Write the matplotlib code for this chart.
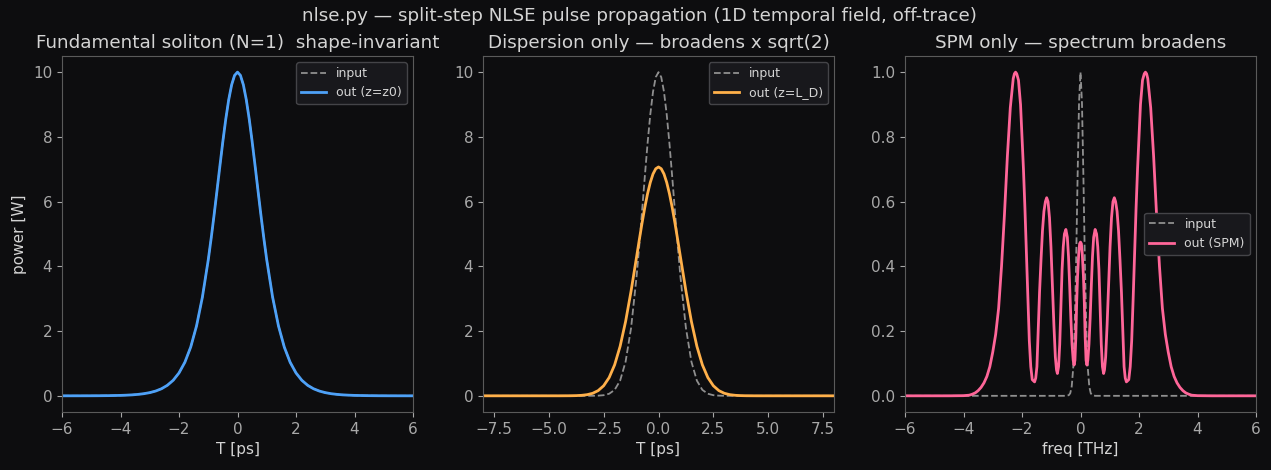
import numpy as np
import matplotlib
matplotlib.use("Agg")
import matplotlib.pyplot as plt

# panel 1: fundamental soliton, power [W] vs T [ps]
t_sol = [-6.0, -5.6, -5.2, -4.8, -4.4, -4.0, -3.8, -3.6, -3.4, -3.2, -3.0, -2.8, -2.6, -2.4,
         -2.2, -2.0, -1.8, -1.6, -1.4, -1.2, -1.0, -0.9, -0.8, -0.7, -0.6, -0.5, -0.4, -0.3,
         -0.2, -0.1, 0.0, 0.1, 0.2, 0.3, 0.4, 0.5, 0.6, 0.7, 0.8, 0.9, 1.0, 1.2, 1.4, 1.6,
         1.8, 2.0, 2.2, 2.4, 2.6, 2.8, 3.0, 3.2, 3.4, 3.6, 3.8, 4.0, 4.4, 4.8, 5.2, 5.6, 6.0]
p_sol = [0.0002, 0.0006, 0.0012, 0.0027, 0.006, 0.0134, 0.020, 0.0298, 0.0445, 0.0662, 0.0987,
         0.147, 0.218, 0.324, 0.479, 0.707, 1.036, 1.505, 2.162, 3.050, 4.200, 4.869, 5.591,
         6.347, 7.116, 7.864, 8.556, 9.151, 9.610, 9.901, 10.0, 9.901, 9.610, 9.151, 8.556,
         7.864, 7.116, 6.347, 5.591, 4.869, 4.200, 3.050, 2.162, 1.505, 1.036, 0.707, 0.479,
         0.324, 0.218, 0.147, 0.0987, 0.0662, 0.0445, 0.0298, 0.020, 0.0134, 0.006, 0.0027,
         0.0012, 0.0006, 0.0002]

# panel 2: dispersion only
t_disp = [-8.0, -6.0, -5.0, -4.5, -4.0, -3.75, -3.5, -3.25, -3.0, -2.75, -2.5, -2.25, -2.0,
          -1.75, -1.5, -1.25, -1.0, -0.875, -0.75, -0.625, -0.5, -0.375, -0.25, -0.125, 0.0,
          0.125, 0.25, 0.375, 0.5, 0.625, 0.75, 0.875, 1.0, 1.25, 1.5, 1.75, 2.0, 2.25, 2.5,
          2.75, 3.0, 3.25, 3.5, 3.75, 4.0, 4.5, 5.0, 6.0, 8.0]
p_disp_in = [0, 0, 0, 0, 0, 0, 0, 0.0001, 0.0012, 0.0052, 0.0193, 0.0633, 0.183, 0.468, 1.054,
             2.096, 3.679, 4.650, 5.698, 6.767, 7.788, 8.688, 9.394, 9.845, 10.0, 9.845, 9.394,
             8.688, 7.788, 6.767, 5.698, 4.650, 3.679, 2.096, 1.054, 0.468, 0.183, 0.0633,
             0.0193, 0.0052, 0.0012, 0.0001, 0, 0, 0, 0, 0, 0, 0]
p_disp_out = [0, 0, 0.0001, 0.0003, 0.0024, 0.0063, 0.0155, 0.036, 0.0786, 0.161, 0.311, 0.563,
              0.957, 1.529, 2.296, 3.237, 4.289, 4.822, 5.338, 5.817, 6.240, 6.591, 6.854,
              7.016, 7.071, 7.016, 6.854, 6.591, 6.240, 5.817, 5.338, 4.822, 4.289, 3.237,
              2.296, 1.529, 0.957, 0.563, 0.311, 0.161, 0.0786, 0.036, 0.0155, 0.0063, 0.0024,
              0.0003, 0.0001, 0, 0]

# panel 3: SPM only, normalised spectra vs freq [THz]
f_in = [-6.0, -0.5, -0.4, -0.35, -0.3, -0.25, -0.2, -0.15, -0.1, -0.05, 0.0,
        0.05, 0.1, 0.15, 0.2, 0.25, 0.3, 0.35, 0.4, 0.5, 6.0]
s_in = [0, 0, 0.002, 0.008, 0.029, 0.085, 0.206, 0.411, 0.674, 0.906, 1.0,
        0.906, 0.674, 0.411, 0.206, 0.085, 0.029, 0.008, 0.002, 0, 0]

f_spm = [-6.0, -4.5, -4.0, -3.8, -3.7, -3.6, -3.5, -3.4, -3.3, -3.2, -3.1, -3.0, -2.9, -2.8,
         -2.7, -2.6, -2.5, -2.4, -2.3, -2.26, -2.22, -2.18, -2.12, -2.05, -1.95, -1.9, -1.85,
         -1.8, -1.75, -1.7, -1.65, -1.57, -1.53, -1.49, -1.45, -1.40, -1.35, -1.30, -1.25,
         -1.20, -1.156, -1.11, -1.06, -1.01, -0.96, -0.91, -0.86, -0.82, -0.79, -0.75, -0.71,
         -0.67, -0.63, -0.59, -0.55, -0.50, -0.45, -0.41, -0.37, -0.33, -0.29, -0.25, -0.22,
         -0.19, -0.16, -0.13, -0.10, -0.06, -0.03, 0.0,
         0.03, 0.06, 0.10, 0.13, 0.16, 0.19, 0.22, 0.25, 0.29, 0.33, 0.37, 0.41, 0.45, 0.50,
         0.55, 0.59, 0.63, 0.67, 0.71, 0.75, 0.79, 0.82, 0.86, 0.91, 0.96, 1.01, 1.06, 1.11,
         1.156, 1.20, 1.25, 1.30, 1.35, 1.40, 1.45, 1.49, 1.53, 1.57, 1.65, 1.7, 1.75, 1.8,
         1.85, 1.9, 1.95, 2.05, 2.12, 2.18, 2.22, 2.26, 2.3, 2.4, 2.5, 2.6, 2.7, 2.8, 2.9, 3.0,
         3.1, 3.2, 3.3, 3.4, 3.5, 3.6, 3.7, 3.8, 4.0, 4.5, 6.0]
s_spm = [0, 0, 0.0005, 0.002, 0.005, 0.009, 0.016, 0.026, 0.04, 0.06, 0.09, 0.135, 0.19, 0.27,
         0.40, 0.56, 0.74, 0.89, 0.98, 0.995, 1.0, 0.995, 0.975, 0.90, 0.70, 0.58, 0.44,
         0.30, 0.17, 0.09, 0.05, 0.043, 0.055, 0.09, 0.19, 0.32, 0.42, 0.51, 0.57,
         0.60, 0.612, 0.60, 0.55, 0.46, 0.34, 0.22, 0.12, 0.08, 0.069, 0.09, 0.16,
         0.28, 0.39, 0.46, 0.50, 0.514, 0.49, 0.43, 0.34, 0.24, 0.16, 0.11, 0.095,
         0.11, 0.18, 0.29, 0.37, 0.44, 0.47, 0.475,
         0.47, 0.44, 0.37, 0.29, 0.18, 0.11, 0.095, 0.11, 0.16, 0.24, 0.34, 0.43, 0.49, 0.514,
         0.50, 0.46, 0.39, 0.28, 0.16, 0.09, 0.069, 0.08, 0.12, 0.22, 0.34, 0.46, 0.55, 0.60,
         0.612, 0.60, 0.57, 0.51, 0.42, 0.32, 0.19, 0.09, 0.055, 0.043, 0.05, 0.09, 0.17, 0.30,
         0.44, 0.58, 0.70, 0.90, 0.975, 0.995, 1.0, 0.995, 0.98, 0.89, 0.74, 0.56, 0.40, 0.27,
         0.19, 0.135, 0.09, 0.06, 0.04, 0.026, 0.016, 0.009, 0.005, 0.002, 0.0005, 0, 0]

bg = "#0d0d0f"
fg = "#d4d4d4"
tick_c = "#a8a8a8"
spine_c = "#5a5a5a"
in_c = "#8f8f8f"

plt.rcParams.update({
    "figure.facecolor": bg,
    "axes.facecolor": bg,
    "axes.edgecolor": spine_c,
    "axes.labelcolor": fg,
    "xtick.color": tick_c,
    "ytick.color": tick_c,
    "text.color": fg,
    "font.size": 11,
})

fig = plt.figure(figsize=(12.71, 4.70), dpi=100)
lefts = [62 / 1271, 483 / 1271, 905 / 1271]
axes = [fig.add_axes([l, 0.1234, 351 / 1271, 0.7575]) for l in lefts]


def legend(ax, loc):
    leg = ax.legend(loc=loc, fontsize=9, facecolor="#18181c", edgecolor="#444448",
                    framealpha=1.0, labelcolor=fg)
    leg.get_frame().set_linewidth(1.0)


ax = axes[0]
ax.plot(t_sol, p_sol, "--", color=in_c, lw=1.3, label="input")
ax.plot(t_sol, p_sol, color="#4ea1f7", lw=2.0, label="out (z=z0)")
ax.set_xlim(-6, 6)
ax.set_title("Fundamental soliton (N=1)  shape-invariant", fontsize=13.2, color=fg)
ax.set_xlabel("T [ps]")
ax.set_ylabel("power [W]")
legend(ax, "upper right")

ax = axes[1]
ax.plot(t_disp, p_disp_in, "--", color=in_c, lw=1.3, label="input")
ax.plot(t_disp, p_disp_out, color="#ffb04a", lw=2.0, label="out (z=L_D)")
ax.set_xlim(-8, 8)
ax.set_title("Dispersion only — broadens x sqrt(2)", fontsize=13.2, color=fg)
ax.set_xlabel("T [ps]")
legend(ax, "upper right")

ax = axes[2]
ax.plot(f_in, s_in, "--", color=in_c, lw=1.3, label="input")
ax.plot(f_spm, s_spm, color="#ff6699", lw=2.0, label="out (SPM)")
ax.set_xlim(-6, 6)
ax.set_title("SPM only — spectrum broadens", fontsize=13.2, color=fg)
ax.set_xlabel("freq [THz]")
legend(ax, "center right")

fig.suptitle("nlse.py — split-step NLSE pulse propagation (1D temporal field, off-trace)",
             fontsize=13.2, color=fg, x=0.5035, y=0.985)

fig.savefig("out.png", dpi=100, facecolor=bg)
